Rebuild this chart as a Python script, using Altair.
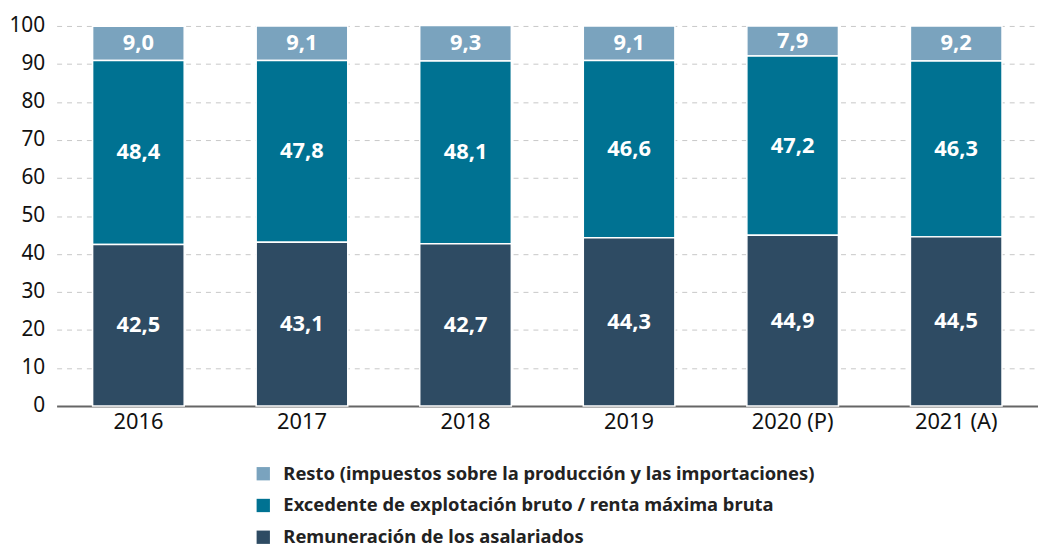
import altair as alt
import pandas as pd

years = ["2016", "2017", "2018", "2019", "2020 (P)", "2021 (A)"]
remuneracion = [42.5, 43.1, 42.7, 44.3, 44.9, 44.5]
excedente = [48.4, 47.8, 48.1, 46.6, 47.2, 46.3]
resto = [9.0, 9.1, 9.3, 9.1, 7.9, 9.2]

series = [
    "Resto (impuestos sobre la producción y las importaciones)",
    "Excedente de explotación bruto / renta máxima bruta",
    "Remuneración de los asalariados",
]
colors = ["#7aa3be", "#007292", "#2e4b63"]
values = [resto, excedente, remuneracion]
y_ticks = [0, 10, 20, 30, 40, 50, 60, 70, 80, 90, 100]

rows = []
for si, (name, vals) in enumerate(zip(series, values)):
    for y, v in zip(years, vals):
        rows.append({"year": y, "serie": name, "value": v, "order": si,
                     "label": f"{v:.1f}".replace(".", ",")})
df = pd.DataFrame(rows)

FONT = "Noto Sans"

base = alt.Chart(df).transform_stack(
    stack="value", groupby=["year"], as_=["y0", "y1"],
    sort=[alt.SortField("order", order="descending")]
).transform_calculate(mid="(datum.y0 + datum.y1) / 2")

x_axis = alt.Axis(labelFontSize=22, labelFont=FONT, labelColor="#111",
                  labelAngle=0, ticks=False, domainColor="#666",
                  domainWidth=2, labelPadding=6)
x_scale = alt.Scale(paddingInner=0.44, paddingOuter=0.22)

y_axis = alt.Axis(values=y_ticks, labelFontSize=21,
                  labelFont=FONT, labelColor="#111", ticks=False,
                  labelOverlap=False,
                  domain=False, grid=True, gridDash=[5, 5],
                  gridColor="#c8c8c8", labelPadding=12)
y_scale = alt.Scale(domain=[0, 100], nice=False)

bars = base.mark_bar(stroke="white", strokeWidth=1.5).encode(
    x=alt.X("year:N", sort=years, title=None, scale=x_scale, axis=x_axis),
    y=alt.Y("y0:Q", title=None, scale=y_scale, axis=y_axis),
    y2="y1:Q",
    color=alt.Color("serie:N", sort=series,
                    scale=alt.Scale(domain=series, range=colors),
                    legend=alt.Legend(title=None, orient="none",
                                      legendX=199, legendY=442,
                                      direction="vertical",
                                      symbolType="square", symbolSize=180,
                                      symbolStrokeWidth=0,
                                      labelFontSize=18.5, labelFont=FONT,
                                      labelFontWeight="bold", labelColor="#222",
                                      rowPadding=13, labelOffset=11,
                                      labelLimit=700)),
)

texts = base.mark_text(color="white", fontSize=22, fontWeight="bold",
                       font=FONT).encode(
    x=alt.X("year:N", sort=years, title=None, scale=x_scale, axis=x_axis),
    y=alt.Y("mid:Q", title=None, scale=y_scale, axis=y_axis),
    text="label:N",
)

chart = (bars + texts).properties(
    width=989, height=383,
    autosize=alt.AutoSizeParams(type="none"),
    padding={"left": 49, "top": 16, "right": 0, "bottom": 140},
).configure_view(stroke=None)

chart.save("out.html", embed_options={"renderer": "svg", "actions": False})
